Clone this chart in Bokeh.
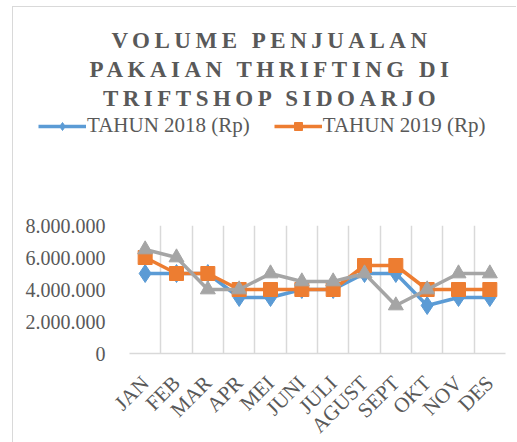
from bokeh.plotting import figure
from bokeh.models import Div, Range1d, FixedTicker, Legend, LegendItem
from bokeh.layouts import column
from bokeh.embed import file_html
from bokeh.resources import INLINE

months = ["JAN", "FEB", "MAR", "APR", "MEI", "JUNI", "JULI", "AGUST", "SEPT", "OKT", "NOV", "DES"]
tahun_2018 = [5000000, 5000000, 5000000, 3500000, 3500000, 4000000, 4000000, 5000000, 5000000, 3000000, 3500000, 3500000]
tahun_2019 = [6000000, 5000000, 5000000, 4000000, 4000000, 4000000, 4000000, 5500000, 5500000, 4000000, 4000000, 4000000]
tahun_2020 = [6500000, 6000000, 4000000, 4000000, 5000000, 4500000, 4500000, 5000000, 3000000, 4000000, 5000000, 5000000]
y_ticks = [0, 2000000, 4000000, 6000000, 8000000]
y_tick_labels = ["0", "2.000.000", "4.000.000", "6.000.000", "8.000.000"]
title_lines = ["VOLUME PENJUALAN", "PAKAIAN THRIFTING DI", "TRIFTSHOP SIDOARJO"]
legend_labels = ["TAHUN 2018 (Rp)", "TAHUN 2019 (Rp)"]

FONT = "Liberation Serif"
TXT = "#595959"
GRID = "#d9d9d9"
W = 503

c18, c19, c20 = "#5B9BD5", "#ED7D31", "#A5A5A5"
x = list(range(1, len(months) + 1))

title_div = Div(
    text=('<div style="font-family:\'Liberation Serif\';font-weight:bold;font-size:23px;'
          'letter-spacing:4.5px;line-height:29px;color:#595959;text-align:center;'
          'padding-top:19px;padding-left:14px;box-sizing:border-box;width:%dpx;">' % W
          + "<br>".join(title_lines) + "</div>"),
    width=W, height=105, margin=0,
)

# legend strip: its own figure, so the legend is not clipped by the plot frame
lg = figure(frame_width=W, frame_height=30, x_range=Range1d(0, 1), y_range=Range1d(-2, -1),
            x_axis_location=None, y_axis_location=None, min_border=0,
            output_backend="svg", toolbar_location=None, margin=0)
lg.outline_line_color = None
lg.xgrid.visible = False
lg.ygrid.visible = False
g18 = lg.line(x, tahun_2018, line_color=c18, line_width=3.5)
s18 = lg.scatter(x, tahun_2018, marker="diamond", size=18, fill_color=c18, line_color=c18)
g19 = lg.line(x, tahun_2019, line_color=c19, line_width=3.5)
s19 = lg.scatter(x, tahun_2019, marker="square", size=14, fill_color=c19, line_color=c19)
legend = Legend(
    items=[LegendItem(label=legend_labels[0], renderers=[g18, s18]),
           LegendItem(label=legend_labels[1], renderers=[g19, s19])],
    orientation="horizontal", location=(25, 4),
    glyph_width=48, glyph_height=20, label_standoff=1, spacing=24, padding=0, margin=0,
    label_text_font=FONT, label_text_font_size="21px", label_text_color=TXT,
    border_line_color=None, background_fill_alpha=0,
)
lg.add_layout(legend, "center")

p = figure(
    frame_width=376, frame_height=128,
    min_border_left=116, min_border_right=W - 116 - 376, min_border_top=83, min_border_bottom=85,
    x_range=Range1d(0.5, len(months) + 0.5), y_range=Range1d(0, 8000000),
    output_backend="svg", toolbar_location=None, margin=0,
)
p.outline_line_color = None

p.xaxis.ticker = FixedTicker(ticks=x)
p.xaxis.major_label_overrides = {xi: m for xi, m in zip(x, months)}
p.xaxis.major_label_orientation = 0.785398
p.xaxis.major_label_text_font = FONT
p.xaxis.major_label_text_font_size = "21px"
p.xaxis.major_label_text_color = TXT
p.xaxis.axis_line_color = GRID
p.xaxis.axis_line_width = 1.5
p.xaxis.major_tick_line_color = None
p.xaxis.minor_tick_line_color = None
p.xaxis.major_label_standoff = 20

p.yaxis.ticker = FixedTicker(ticks=y_ticks)
p.yaxis.major_label_overrides = {t: l for t, l in zip(y_ticks, y_tick_labels)}
p.yaxis.major_label_text_font = FONT
p.yaxis.major_label_text_font_size = "20px"
p.yaxis.major_label_text_color = TXT
p.yaxis.axis_line_color = None
p.yaxis.major_tick_line_color = None
p.yaxis.minor_tick_line_color = None
p.yaxis.major_label_standoff = 18

p.ygrid.grid_line_color = None
p.xgrid.ticker = FixedTicker(ticks=[i + 0.5 for i in range(len(months) + 1)])
p.xgrid.grid_line_color = GRID
p.xgrid.grid_line_width = 1.5

p.line(x, tahun_2018, line_color=c18, line_width=3.5)
p.scatter(x, tahun_2018, marker="diamond", size=18, fill_color=c18, line_color=c18)
p.line(x, tahun_2019, line_color=c19, line_width=3.5)
p.scatter(x, tahun_2019, marker="square", size=14, fill_color=c19, line_color=c19)
p.line(x, tahun_2020, line_color=c20, line_width=3.5)
p.scatter(x, tahun_2020, marker="triangle", size=15, fill_color=c20, line_color=c20)

layout = column(column(title_div, lg, spacing=0, margin=0), p, spacing=0, margin=(6, 0, 0, 12),
                styles={"border-left": "1px solid #d9d9d9", "border-top": "1px solid #d9d9d9"})
open("out.html", "w").write(file_html(layout, INLINE))
